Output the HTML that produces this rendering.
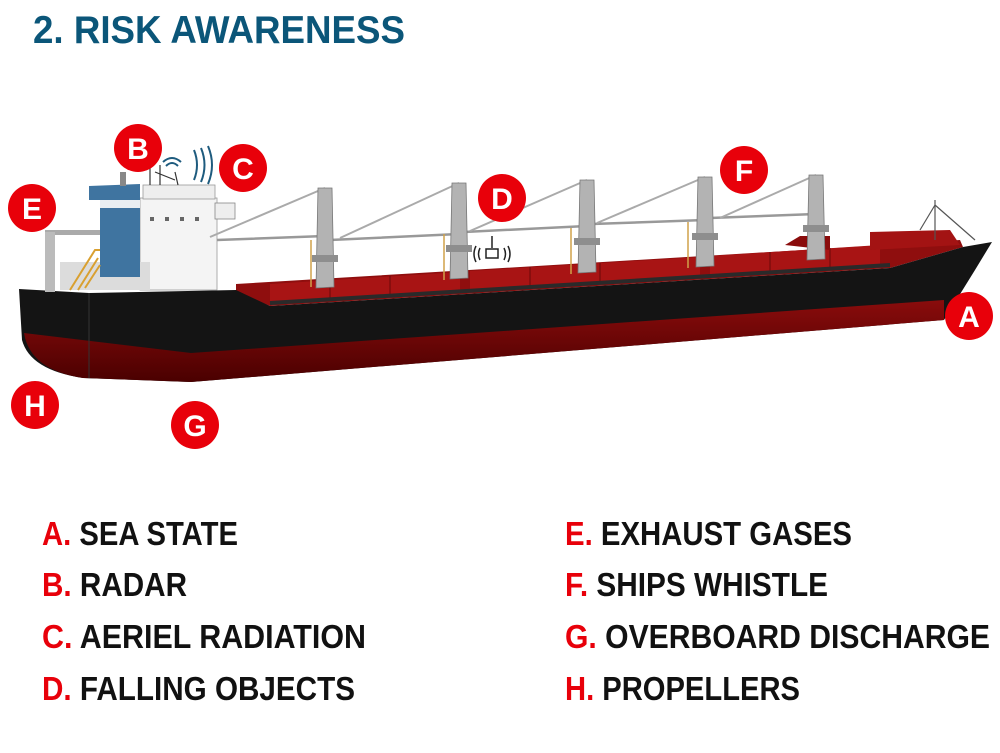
<!DOCTYPE html>
<html><head><meta charset="utf-8"><style>
html,body{margin:0;padding:0;background:#fff;}
svg{display:block}
text{font-family:"Liberation Sans",sans-serif;font-weight:bold}
</style></head><body>
<svg width="1000" height="753" viewBox="0 0 1000 753" xmlns="http://www.w3.org/2000/svg">
<text x="33" y="43" font-size="39" fill="#0b5679" textLength="372" lengthAdjust="spacingAndGlyphs">2. RISK AWARENESS</text>

<defs>
<linearGradient id="red" x1="0" y1="0" x2="0" y2="1"><stop offset="0" stop-color="#8a0c0c"/><stop offset="1" stop-color="#4a0000"/></linearGradient>
</defs>
<!-- deck red -->
<path d="M236,284 L870,246 L960,240 L963,247 L890,268 L270,306 L236,292 Z" fill="#8f0e0e"/>
<g fill="#a81414">
<path d="M270,284 L460,272 L460,292 L270,304 Z"/>
<path d="M470,271 L700,257 L700,277 L470,291 Z"/>
<path d="M710,256 L880,245 L880,265 L710,276 Z"/>
</g>
<g stroke="#6a0808" stroke-width="1">
<path d="M330,280 L330,300 M390,276 L390,296 M530,267 L530,287 M600,263 L600,283 M770,252 L770,272 M830,248 L830,268"/>
</g>
<path d="M870,232 L950,230 L960,245 L870,250 Z" fill="#a31313"/>
<path d="M785,245 L800,236 L830,236 L830,250 Z" fill="#8a0c0c"/>
<!-- hull -->
<path d="M19,289 L89,293 L236,290 L270,306 L890,268 L963,247 L992,242 L975,270 L944,320 L191,382 L83,378 Q30,370 22,340 Z" fill="#141414"/>
<path d="M24,333 L191,353 L944,300 L944,320 L191,382 L83,378 Q30,370 24,333 Z" fill="url(#red)"/>
<path d="M89,293 L89,378" stroke="#333" stroke-width="1"/>
<path d="M270,303 L890,265" stroke="#2a2a2a" stroke-width="4"/>
<!-- mast at bow -->
<path d="M935,200 L935,240 M935,205 L920,230 M935,205 L975,240" stroke="#555" stroke-width="1.2" fill="none"/>

<!-- superstructure -->
<rect x="140" y="198" width="77" height="92" fill="#f4f4f4" stroke="#999" stroke-width="0.8"/>
<rect x="143" y="185" width="72" height="14" fill="#eee" stroke="#999" stroke-width="0.8"/>
<rect x="60" y="262" width="90" height="28" fill="#dcdcdc"/>
<path d="M89,186 L140,184 L140,277 L100,277 L100,200 L89,200 Z" fill="#3f74a0"/>
<rect x="100" y="200" width="40" height="8" fill="#e9eef2"/>
<rect x="120" y="172" width="6" height="14" fill="#888"/>
<path d="M150,160 L150,185 M160,165 L160,185 M175,172 L178,185 M155,172 L175,180" stroke="#333" stroke-width="1.2"/>
<rect x="215" y="203" width="20" height="16" fill="#eee" stroke="#888" stroke-width="0.8"/>
<rect x="45" y="230" width="55" height="5" fill="#aaa"/>
<rect x="45" y="232" width="10" height="60" fill="#bbb"/>
<path d="M70,290 L95,250 L100,250 M78,290 L98,258 M85,288 L100,265" stroke="#d9a030" stroke-width="2" fill="none"/>
<g fill="#666"><rect x="150" y="217" width="4" height="4"/><rect x="165" y="217" width="4" height="4"/><rect x="180" y="217" width="4" height="4"/><rect x="195" y="217" width="4" height="4"/></g>

<!-- cranes -->
<g stroke="#999" stroke-width="2.5" fill="none">
<path d="M217,240 L325,236 M330,240 L459,234 M464,232 L587,226 M592,224 L705,220 M710,218 L816,214"/>
</g>
<g stroke="#aaa" stroke-width="2" fill="none">
<path d="M210,237 L325,188 M340,238 L459,183 M470,231 L587,180 M597,223 L705,177 M720,218 L816,175"/>
</g>
<g fill="#b3b3b3" stroke="#777" stroke-width="0.8">
<path d="M318,188 L332,188 L334,287 L316,288 Z"/>
<path d="M452,183 L466,183 L468,278 L450,279 Z"/>
<path d="M580,180 L594,180 L596,272 L578,273 Z"/>
<path d="M698,177 L712,177 L714,266 L696,267 Z"/>
<path d="M809,175 L823,175 L825,259 L807,260 Z"/>
</g>
<g fill="#8e8e8e"><rect x="312" y="255" width="26" height="7"/><rect x="446" y="245" width="26" height="7"/><rect x="574" y="238" width="26" height="7"/><rect x="692" y="233" width="26" height="7"/><rect x="803" y="225" width="26" height="7"/></g>
<g stroke="#d0a24a" stroke-width="1.5"><path d="M311,240 L311,287 M444,234 L444,280 M571,228 L571,274 M688,222 L688,268"/></g>

<!-- icons -->
<g stroke="#1e5b7e" stroke-width="2" fill="none">
<path d="M163,162 Q172,154 181,162 M166,166 Q172,160 178,166"/>
<path d="M194,150 Q200,165 194,180 M201,148 Q208,165 201,182 M208,146 Q216,165 208,184"/>
</g>
<g stroke="#222" stroke-width="1.5" fill="none">
<path d="M492,236 L492,248 M486,249 L498,249 L498,258 L486,258 Z M480,248 Q477,254 480,260 M476,246 Q472,254 476,262 M504,248 Q507,254 504,260 M508,246 Q512,254 508,262"/>
</g>

<!-- markers -->
<g fill="#e8000a">
<circle cx="138" cy="148" r="24"/><circle cx="243" cy="168" r="24"/><circle cx="32" cy="208" r="24"/>
<circle cx="502" cy="198" r="24"/><circle cx="744" cy="170" r="24"/><circle cx="969" cy="316" r="24"/>
<circle cx="35" cy="405" r="24"/><circle cx="195" cy="425" r="24"/>
</g>
<g fill="#fff" font-size="30" text-anchor="middle">
<text x="138" y="159">B</text><text x="243" y="179">C</text><text x="32" y="219">E</text>
<text x="502" y="209">D</text><text x="744" y="181">F</text><text x="969" y="327">A</text>
<text x="35" y="416">H</text><text x="195" y="436">G</text>
</g>

<!-- legend -->
<g font-size="33">
<text x="42" y="545" textLength="196" lengthAdjust="spacingAndGlyphs"><tspan fill="#e8000a">A.</tspan><tspan fill="#111"> SEA STATE</tspan></text>
<text x="42" y="596" textLength="145" lengthAdjust="spacingAndGlyphs"><tspan fill="#e8000a">B.</tspan><tspan fill="#111"> RADAR</tspan></text>
<text x="42" y="648" textLength="324" lengthAdjust="spacingAndGlyphs"><tspan fill="#e8000a">C.</tspan><tspan fill="#111"> AERIEL RADIATION</tspan></text>
<text x="42" y="700" textLength="313" lengthAdjust="spacingAndGlyphs"><tspan fill="#e8000a">D.</tspan><tspan fill="#111"> FALLING OBJECTS</tspan></text>
<text x="565" y="545" textLength="287" lengthAdjust="spacingAndGlyphs"><tspan fill="#e8000a">E.</tspan><tspan fill="#111"> EXHAUST GASES</tspan></text>
<text x="565" y="596" textLength="263" lengthAdjust="spacingAndGlyphs"><tspan fill="#e8000a">F.</tspan><tspan fill="#111"> SHIPS WHISTLE</tspan></text>
<text x="565" y="648" textLength="425" lengthAdjust="spacingAndGlyphs"><tspan fill="#e8000a">G.</tspan><tspan fill="#111"> OVERBOARD DISCHARGE</tspan></text>
<text x="565" y="700" textLength="235" lengthAdjust="spacingAndGlyphs"><tspan fill="#e8000a">H.</tspan><tspan fill="#111"> PROPELLERS</tspan></text>
</g>
</svg>
</body></html>
